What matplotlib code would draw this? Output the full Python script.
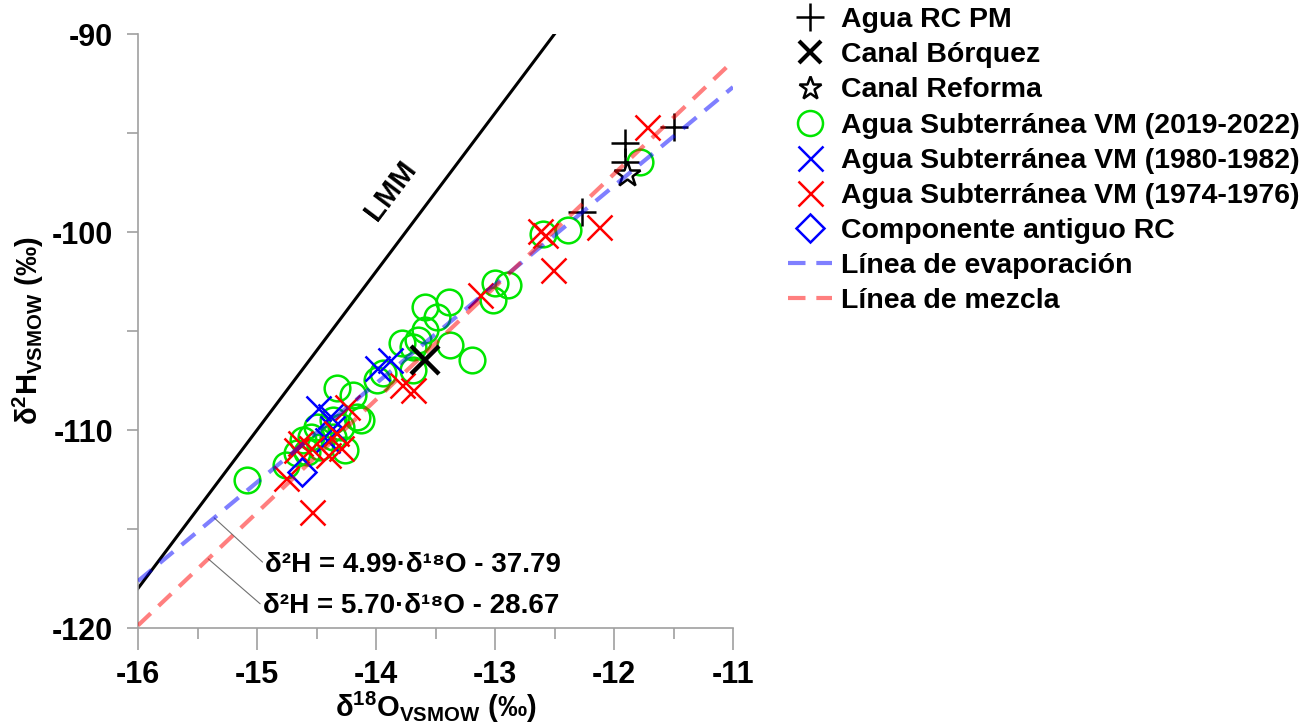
import matplotlib
matplotlib.use("Agg")
import matplotlib.pyplot as plt
from matplotlib.lines import Line2D
import numpy as np

plt.rcParams['font.family'] = ['Liberation Sans', 'DejaVu Sans']
plt.rcParams['font.weight'] = 'bold'
plt.rcParams['axes.unicode_minus'] = False
plt.rcParams['mathtext.fontset'] = 'custom'
plt.rcParams['mathtext.rm'] = 'Liberation Sans:bold'
plt.rcParams['mathtext.it'] = 'Liberation Sans:bold'
plt.rcParams['mathtext.bf'] = 'Liberation Sans:bold'

# --- isotope data (d18O, d2H), per mil VSMOW ---
rc_pm_o = [-11.50, -11.91, -11.91, -12.27]
rc_pm_h = [-94.70, -95.50, -96.46, -98.99]

borquez_o = [-13.59]
borquez_h = [-106.46]

reforma_o = [-11.89]
reforma_h = [-97.05]

gw2019_o = [-15.08, -14.76, -14.66, -14.61, -14.55, -14.47, -14.50, -14.36, -14.36,
            -14.29, -14.16, -14.33, -14.19, -13.99, -13.94, -13.69, -13.78, -13.65,
            -13.69, -13.38, -13.19, -13.59, -13.49, -13.59, -13.39, -13.02, -13.00,
            -12.89, -12.60, -12.39, -11.78, -14.26, -14.58, -14.13]
gw2019_h = [-112.53, -111.77, -111.16, -110.51, -110.35, -110.86, -109.85, -110.35, -109.49,
            -109.85, -109.34, -107.88, -108.23, -107.47, -107.12, -106.97, -105.61, -105.45,
            -105.81, -105.71, -106.46, -104.95, -104.29, -103.79, -103.54, -103.43, -102.58,
            -102.68, -100.10, -99.90, -96.46, -111.01, -111.11, -109.49]

gw1980_o = [-14.49, -14.39, -14.37, -14.41, -13.99, -13.88]
gw1980_h = [-108.89, -109.29, -109.90, -110.51, -106.87, -106.46]

gw1974_o = [-11.72, -12.62, -12.58, -12.51, -12.13, -13.13, -13.78, -13.69, -14.54,
            -14.76, -14.64, -14.55, -14.67, -14.24, -14.34, -14.29, -14.40]
gw1974_h = [-94.70, -99.95, -100.15, -101.92, -99.75, -103.18, -107.73, -107.98, -114.14,
            -112.42, -110.66, -110.91, -111.01, -108.84, -110.15, -110.91, -111.26]

old_rc_o = [-14.62]
old_rc_h = [-112.10]

# line parameters: d2H = slope * d18O + intercept
lmm_slope, lmm_icpt = 8.0, 10.0
evap_slope, evap_icpt = 4.99, -37.79
mix_slope, mix_icpt = 5.70, -28.67

fig = plt.figure(figsize=(13.14, 7.26), dpi=100)
ax = fig.add_axes([138 / 1314, 98 / 726, (733 - 138) / 1314, (628 - 34) / 726])

green = '#00e600'
ax.plot(gw2019_o, gw2019_h, 'o', ms=18.5, mfc='none', mec=green, mew=1.8, zorder=2)
ax.plot(gw1980_o, gw1980_h, 'x', ms=18, color='blue', mew=1.8, zorder=3)
ax.plot(gw1974_o, gw1974_h, 'x', ms=18, color='red', mew=1.8, zorder=3)
ax.plot(old_rc_o, old_rc_h, 'D', ms=14, mfc='none', mec='blue', mew=1.8, zorder=3)
ax.plot(rc_pm_o, rc_pm_h, '+', ms=20, color='black', mew=1.8, zorder=4)
ax.plot(borquez_o, borquez_h, 'x', ms=20, color='black', mew=3.2, zorder=4)
ax.plot(reforma_o, reforma_h, '*', ms=19, mfc='white', mec='black', mew=1.8, zorder=4)

# meteoric line
xl = np.array([-16.0, -12.5])
ax.plot(xl, lmm_slope * xl + lmm_icpt, color='black', lw=2.2, zorder=1)

xe = np.array([-16.0, -11.0])
ev, = ax.plot(xe, evap_slope * xe + evap_icpt, color='blue', alpha=0.5, lw=3, zorder=5)
ev.set_dashes([4.2, 2.6])
mx, = ax.plot(xe, mix_slope * xe + mix_icpt, color='red', alpha=0.5, lw=3, zorder=5)
mx.set_dashes([4.2, 2.6])

ax.text(-13.88, -97.9, 'LMM', rotation=53, rotation_mode='anchor', ha='center',
        va='center', fontsize=21, fontweight='bold')

xa = -15.36
ax.annotate('δ²H = 4.99·δ¹⁸O - 37.79', xy=(xa, evap_slope * xa + evap_icpt),
            xytext=(-14.93, -116.8), ha='left', va='center', fontsize=20,
            fontweight='bold',
            arrowprops=dict(arrowstyle='-', color='#707070', lw=0.8,
                            shrinkA=0, shrinkB=0, relpos=(0, 0.5)))
xb = -15.41
ax.annotate('δ²H = 5.70·δ¹⁸O - 28.67', xy=(xb, mix_slope * xb + mix_icpt),
            xytext=(-14.95, -118.9), ha='left', va='center', fontsize=20,
            fontweight='bold',
            arrowprops=dict(arrowstyle='-', color='#707070', lw=0.8,
                            shrinkA=0, shrinkB=0, relpos=(0, 0.5)))

ax.set_xlim(-16, -11)
ax.set_ylim(-120, -90)
ax.set_xticks([-16, -15, -14, -13, -12, -11])
ax.set_xticks(np.arange(-15.5, -11, 1.0), minor=True)
ax.set_yticks([-120, -110, -100, -90])
ax.set_yticks([-115, -105, -95], minor=True)
for s in ['top', 'right']:
    ax.spines[s].set_visible(False)
for s in ['left', 'bottom']:
    ax.spines[s].set_color('#a0a0a0')
    ax.spines[s].set_linewidth(1.2)
ax.tick_params(axis='x', which='major', length=16, color='#a0a0a0', width=1.2,
               labelsize=22, pad=7)
ax.tick_params(axis='x', which='minor', length=8, color='#a0a0a0', width=1.2)
ax.tick_params(axis='y', which='both', length=8, color='#a0a0a0', width=1.2,
               labelsize=22, pad=10)
for lbl in ax.get_xticklabels() + ax.get_yticklabels():
    lbl.set_fontweight('bold')

ax.set_xlabel(r'δ$^{18}$O$_{\mathrm{VSMOW}}$ (‰)', fontsize=21, fontweight='bold', labelpad=0)
ax.set_ylabel(r'δ$^{2}$H$_{\mathrm{VSMOW}}$ (‰)', fontsize=21, fontweight='bold', labelpad=4)

handles = [
    Line2D([], [], ls='none', marker='+', ms=20, color='black', mew=1.8),
    Line2D([], [], ls='none', marker='x', ms=16, color='black', mew=3.0),
    Line2D([], [], ls='none', marker='*', ms=17, mfc='white', mec='black', mew=1.8),
    Line2D([], [], ls='none', marker='o', ms=18, mfc='none', mec=green, mew=1.8),
    Line2D([], [], ls='none', marker='x', ms=18, color='blue', mew=1.8),
    Line2D([], [], ls='none', marker='x', ms=18, color='red', mew=1.8),
    Line2D([], [], ls='none', marker='D', ms=14, mfc='none', mec='blue', mew=1.8),
    Line2D([], [], color='blue', alpha=0.5, lw=3, dashes=[4.2, 2.6]),
    Line2D([], [], color='red', alpha=0.5, lw=3, dashes=[4.2, 2.6]),
]
labels = ['Agua RC PM', 'Canal Bórquez', 'Canal Reforma',
          'Agua Subterránea VM (2019-2022)', 'Agua Subterránea VM (1980-1982)',
          'Agua Subterránea VM (1974-1976)', 'Componente antiguo RC',
          'Línea de evaporación', 'Línea de mezcla']
leg = fig.legend(handles, labels, loc='upper left', bbox_to_anchor=(0.5997, 0.990),
                 frameon=False, fontsize=20.5, borderpad=0, borderaxespad=0,
                 handlelength=1.55, handletextpad=0.3, labelspacing=0.32)
for t in leg.get_texts():
    t.set_fontweight('bold')

fig.savefig('out.png', dpi=100)
